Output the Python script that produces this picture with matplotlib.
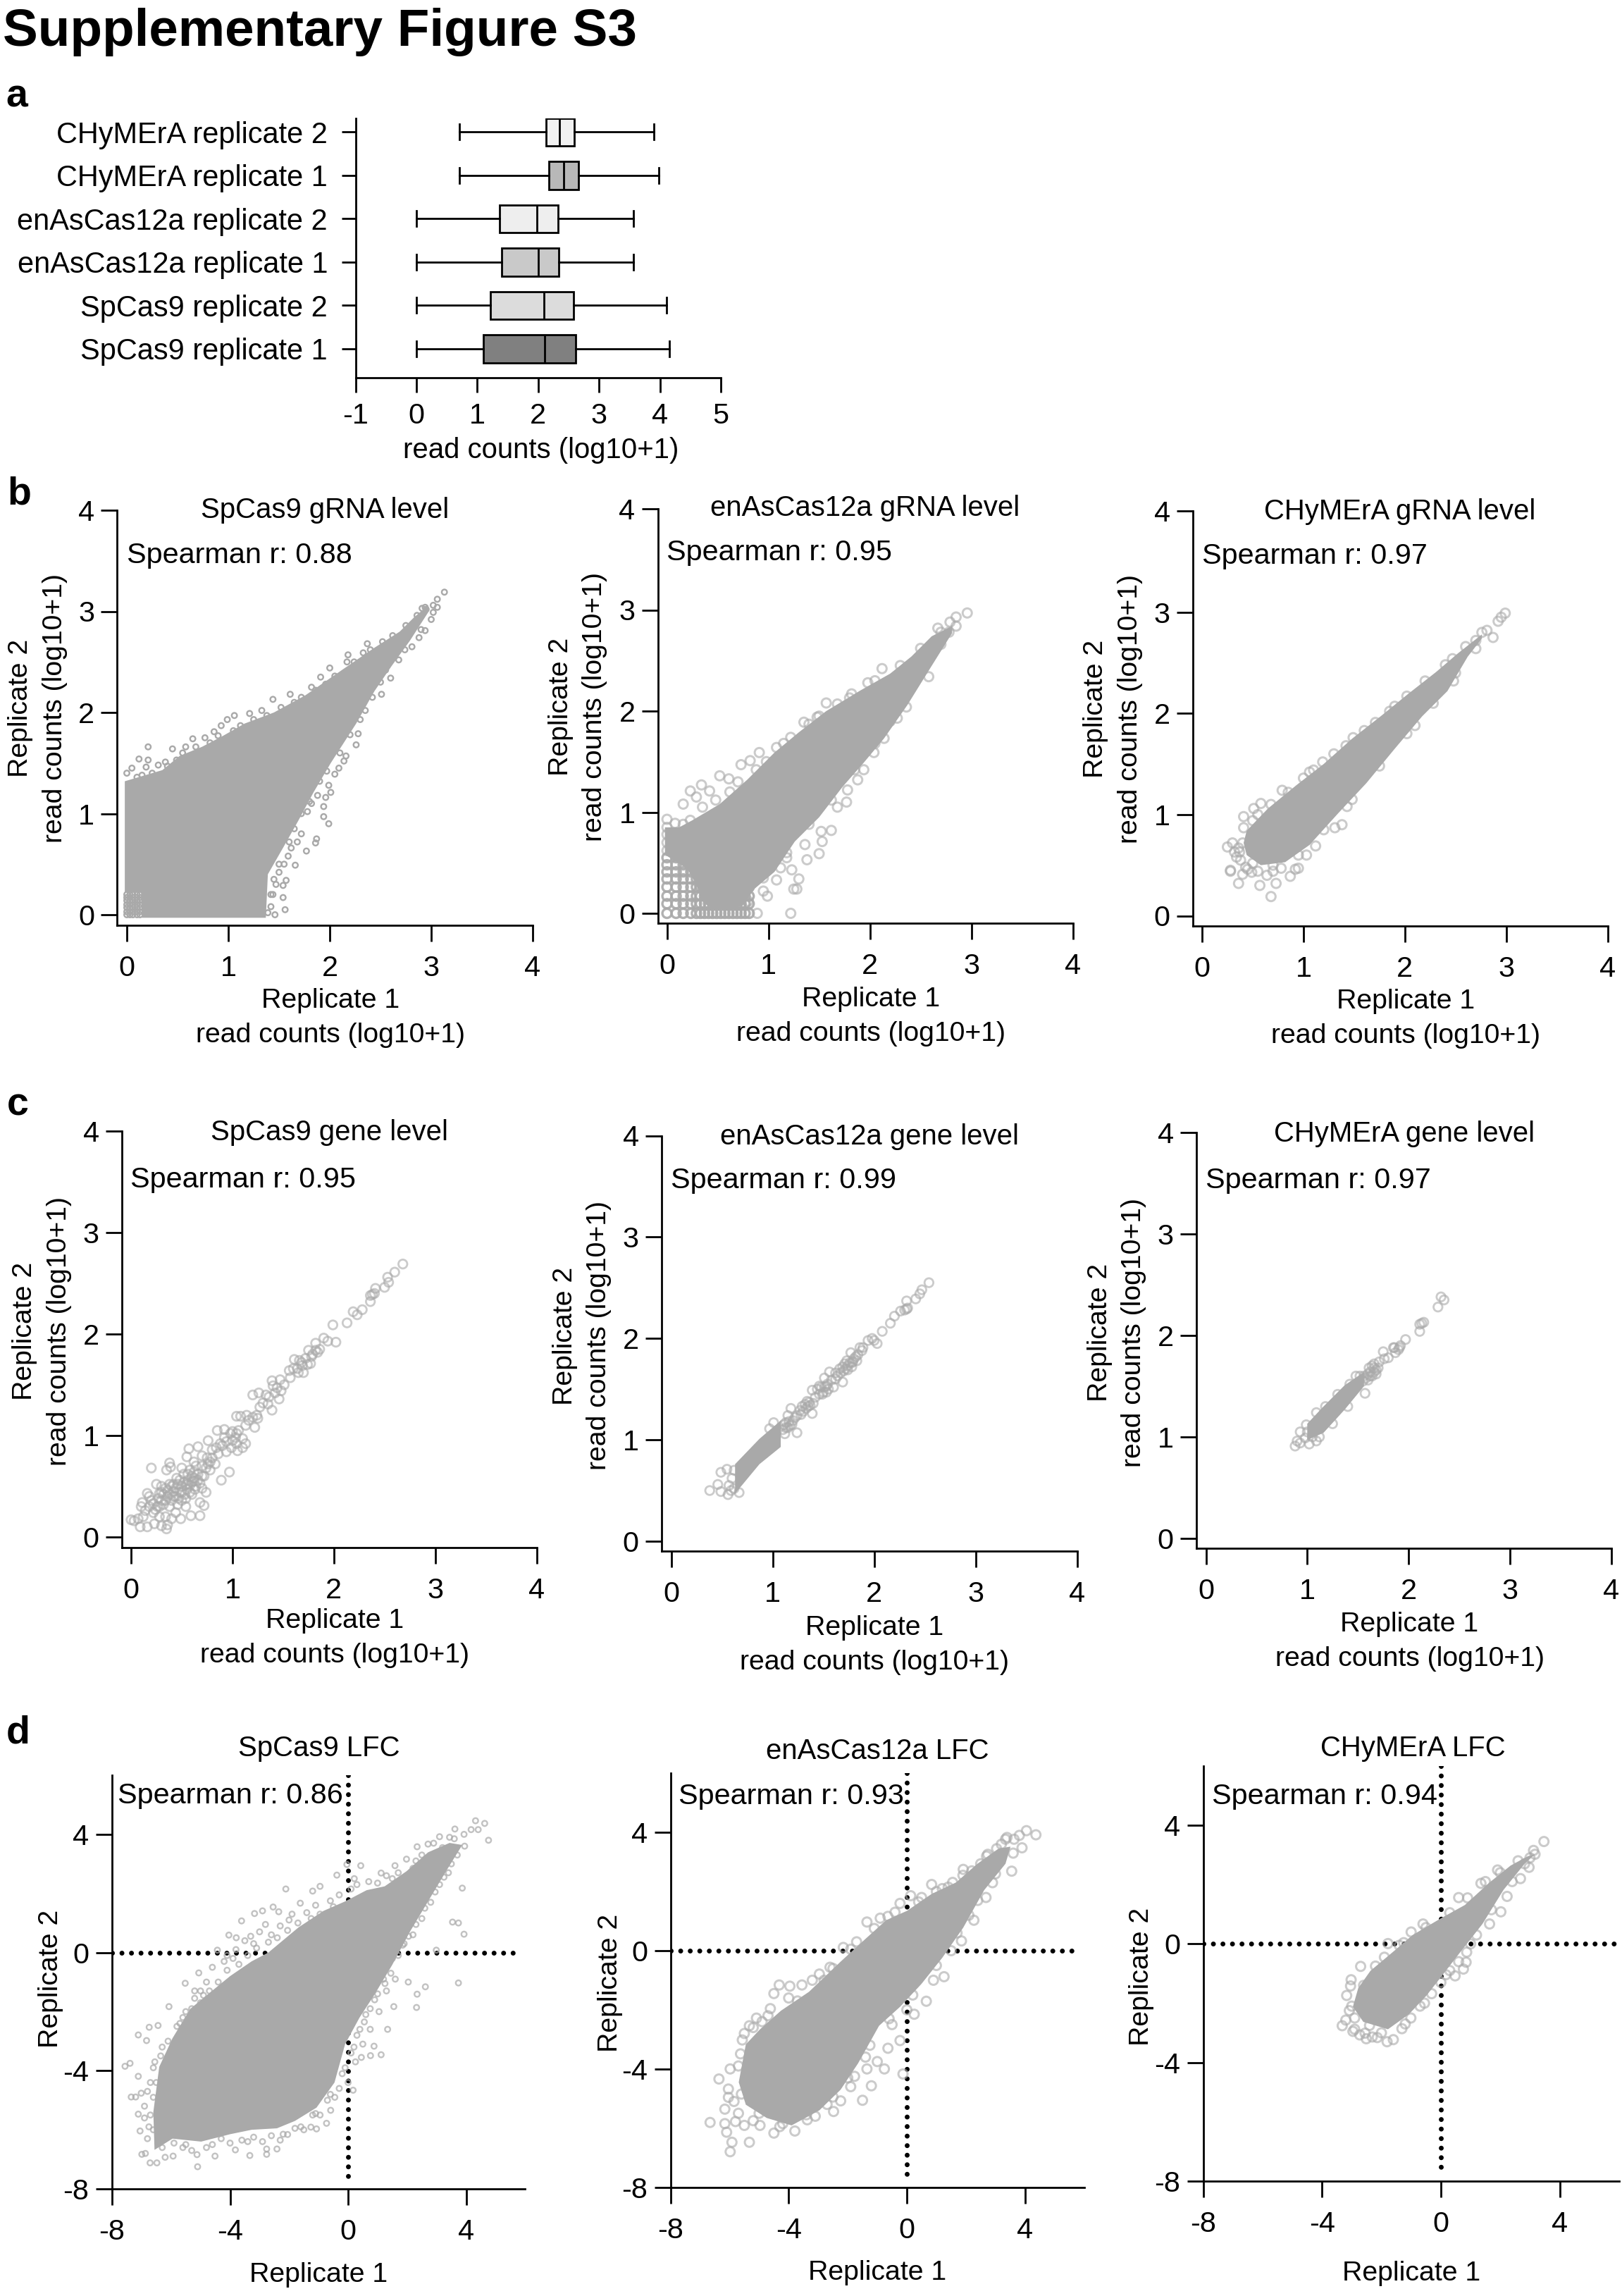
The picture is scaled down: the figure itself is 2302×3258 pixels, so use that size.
import numpy as np
import matplotlib
matplotlib.use("Agg")
import matplotlib.pyplot as plt

plt.rcParams['font.family'] = ['Liberation Sans', 'DejaVu Sans']
W, H = 2302, 3258
GREY = '#a9a9a9'

# ---------- panel a ----------
box_labels = ['SpCas9 replicate 1', 'SpCas9 replicate 2', 'enAsCas12a replicate 1',
              'enAsCas12a replicate 2', 'CHyMErA replicate 1', 'CHyMErA replicate 2']
box_whislo = [0, 0, 0, 0, 0.706, 0.706]
box_q1 = [1.10, 1.21, 1.40, 1.36, 2.18, 2.127]
box_med = [2.11, 2.10, 2.00, 1.98, 2.42, 2.354]
box_q3 = [2.62, 2.58, 2.34, 2.33, 2.66, 2.59]
box_whishi = [4.16, 4.11, 3.56, 3.56, 3.98, 3.90]
box_colors = ['#808080', '#dcdcdc', '#c9c9c9', '#eeeeee', '#b8b8b8', '#f1f1f1']

# ---------- panel b: dense clouds (outline) and stray points ----------
b1_up = [(-0.02,1.32),(0.35,1.43),(0.52,1.57),(0.74,1.66),(0.95,1.77),(1.16,1.89),(1.45,2.0),(1.76,2.17),
         (2.12,2.42),(2.44,2.64),(2.69,2.80),(2.83,2.94),(2.97,3.06)]
b1_lo = [(-0.02,0.22),(0.14,0.22),(0.15,-0.03),(1.37,-0.03),(1.39,0.40),(1.55,0.68),(1.69,0.93),(1.84,1.21),
         (2.01,1.50),(2.26,1.89),(2.44,2.21),(2.61,2.46),(2.79,2.71),(2.97,2.99)]
b1_pts = [(3.13,3.19),(3.06,3.12),(3.02,3.06),(2.91,3.03),(2.94,3.04),(3.06,3.04),(3.02,2.99),(2.37,2.68),(2.33,2.59),
          (2.18,2.57),(2.17,2.50),(2.0,2.44),(1.91,2.35),(1.82,2.25),(1.61,2.18),(1.44,2.13),(1.33,2.02),(1.21,1.99),
          (1.06,1.97),(0.99,1.93),(0.93,1.87),(0.86,1.81),(0.77,1.75),(0.65,1.74),(0.58,1.66),(0.45,1.64),(0.21,1.66),
          (0.12,1.54),(0.21,1.53),(0.19,1.46),(0,1.40),(0.05,1.45),(0.31,1.48),(0.38,1.51),(0.49,1.53),(2.51,2.18),
          (2.6,2.34),(2.28,1.79),(2.26,1.68),(2.16,1.57),(2.14,1.52),(2.09,1.45),(2.05,1.39),(2.01,1.21),(1.99,1.28),
          (1.96,1.16),(1.94,1.07),(1.94,0.97),(1.99,0.90),(1.87,0.75),(1.86,0.71),(1.77,0.63),(1.66,0.49),(1.59,0.58),
          (1.55,0.50),(1.57,0.34),(1.54,0.29),(1.54,0.17),(1.56,0.05),(1.46,0),(1.39,0.02),(2.94,2.81),(2.88,2.74),
          (2.81,2.65),(1.72,0.80),(1.68,0.72),(1.62,0.66),(1.50,0.42),(1.47,0.30),(1.44,0.20),(1.42,0.08),(1.78,1.02),
          (1.82,1.10),(1.88,1.18),(0.1,1.36),(0.15,1.38),(0.25,1.40),(0.4,1.47),(0.55,1.6),(0.68,1.66),(0.82,1.70),
          (0.9,1.77),(1.05,1.82),(1.12,1.87),(1.25,1.93),(1.38,1.97),(1.52,2.05),(1.65,2.1),(1.72,2.15),(1.86,2.22),
          (1.96,2.28),(2.05,2.36),(2.24,2.50),(2.4,2.62),(2.52,2.70),(2.62,2.76),(2.75,2.86),(2.86,2.96),(2.95,3.02),
          (1.42,0.2),(1.45,0.35),(1.5,0.5),(1.6,0.72),(1.65,0.85),(1.72,1.0),(1.8,1.12),(1.9,1.32),(1.97,1.42),(2.1,1.6),
          (2.2,1.78),(2.35,2.02),(2.5,2.3),(2.68,2.52),(2.74,2.62),(2.9,2.82),(3.0,2.92),(2.55,2.42),(2.42,2.15),(2.3,1.93)]
b1_lat_x = [0, 0.03, 0.06, 0.10, 0.13]
b1_lat_y = [0, 0.03, 0.07, 0.10, 0.14, 0.17, 0.20]

b2_up = [(-0.02,0.85),(0.12,0.85),(0.25,0.92),(0.52,1.08),(0.79,1.32),(1.06,1.59),(1.30,1.79),(1.57,2.0),(1.9,2.2),
         (2.2,2.37),(2.41,2.54),(2.61,2.74),(2.81,2.84)]
b2_lo = [(-0.02,0.58),(0.2,0.44),(0.28,0.30),(0.36,0.10),(0.45,0.05),(0.6,0.03),(0.75,0.08),(0.86,0.24),(1.06,0.41),
         (1.26,0.71),(1.5,0.95),(1.73,1.25),(1.94,1.49),(2.14,1.73),(2.37,2.06),(2.58,2.40),(2.81,2.77)]
b2_pts = [(2.96,2.97),(2.85,2.93),(2.79,2.88),(2.85,2.84),(2.67,2.82),(2.58,2.34),(2.36,2.04),(2.27,1.93),(2.14,1.73),
          (2.04,1.59),(1.94,1.42),(1.88,1.32),(1.78,1.22),(1.77,1.10),(1.68,1.05),(1.62,0.82),(1.52,0.81),(1.53,0.71),
          (1.5,0.59),(1.36,0.68),(1.38,0.53),(1.30,0.34),(1.23,0.43),(1.28,0.24),(1.25,0.24),(1.22,0),(0.99,0.17),
          (0.89,0),(1.57,2.08),(1.48,1.94),(1.35,1.89),(1.08,1.64),(0.91,1.59),(0.73,1.47),(0.82,1.51),(0.61,1.33),
          (0.52,1.36),(0.34,1.27),(0.23,1.21),(0.42,1.21),(0.29,1.15),(0.16,1.08),(0,0.93),(0.08,0.89),(0,0.85),
          (1.98,2.28),(2.12,2.42),(1.82,2.17),(0,0.62),(0,0.70),(0,0.78),(0.09,0.62),(0.09,0.70),(0.09,0.78),
          (0.16,0.62),(0.16,0.70),(0.16,0.78),(0.16,0.88),(0.23,0.92),(0.95,0.22),(1.08,0.33),(1.12,0.45),(1.18,0.55),
          (0.35,1.05),(0.48,1.12),(0.62,1.2),(0.7,1.3),(0.88,1.42),(0.98,1.5),(1.15,1.68),(1.22,1.74),(1.4,1.87),(1.5,1.95),
          (1.68,2.07),(1.8,2.13),(2.05,2.3),(2.3,2.45),(2.5,2.62),(2.7,2.78),(2.78,2.78),(2.7,2.66),(2.48,2.45),(2.3,2.15),
          (2.2,1.9),(2.05,1.68),(1.85,1.42),(1.62,1.12),(1.4,0.88),(1.18,0.6),(0.95,0.35),(0.8,0.12)]
b2_lat_x = [0, 0.09, 0.16, 0.235, 0.29, 0.33, 0.37, 0.41, 0.45, 0.49, 0.53, 0.57, 0.61, 0.65, 0.69, 0.73, 0.77, 0.81]
b2_lat_y = [0, 0.095, 0.17, 0.26, 0.34, 0.41, 0.48, 0.55]

b3_up = [(0.41,0.72),(0.44,0.84),(0.65,1.06),(0.93,1.29),(1.2,1.5),(1.48,1.75),(1.76,1.97),(2.03,2.19),(2.31,2.41),
         (2.52,2.59),(2.76,2.78)]
b3_lo = [(0.41,0.72),(0.44,0.6),(0.58,0.5),(0.82,0.53),(1.06,0.70),(1.34,1.01),(1.62,1.31),(1.90,1.65),(2.17,1.97),
         (2.42,2.22),(2.62,2.56),(2.76,2.74)]
b3_pts = [(2.99,2.99),(2.95,2.95),(2.92,2.91),(2.87,2.75),(2.81,2.82),(2.76,2.80),(2.48,2.32),(2.47,2.54),(2.02,2.17),
          (1.90,2.07),(2.1,1.88),(1.71,1.91),(1.49,1.76),(1.38,0.90),(1.31,0.87),(1.43,1.08),(1.12,0.69),(1.19,1.52),
          (1.06,1.42),(0.79,1.24),(0.58,1.11),(0.51,1.06),(0.41,0.98),(0.41,0.87),(0.5,0.94),(0.30,0.72),(0.25,0.68),
          (0.32,0.63),(0.40,0.72),(0.38,0.55),(0.28,0.44),(0.36,0.32),(0.40,0.41),(0.49,0.43),(0.57,0.30),(0.73,0.32),
          (0.68,0.19),(0.64,0.40),(0.87,0.39),(0.92,0.46),(0.95,0.47),(1.03,0.60),(0.37,0.63),(0.43,0.48),(0.28,0.45),
          (0.45,0.46),(0.55,0.44),(0.70,0.44),(0.78,0.47),(0.34,0.58),(0.36,0.67),(0.55,1.0),(0.68,1.1),(0.85,1.22),
          (1.0,1.36),(1.1,1.44),(1.3,1.6),(1.42,1.68),(1.6,1.83),(1.85,2.02),(2.2,2.32),(2.4,2.48),(2.6,2.66),(2.7,2.72),
          (2.7,2.64),(2.5,2.4),(2.28,2.1),(2.02,1.8),(1.75,1.48),(1.48,1.15),(1.2,0.85),(0.95,0.6),(0.7,0.5),(0.5,0.52)]

# ---------- panel c: gene-level points ----------
c1_pts = [(2.68,2.69),(2.60,2.61),(2.53,2.56),(2.54,2.51),(2.50,2.46),(2.41,2.45),(2.40,2.40),(2.36,2.38),(2.36,2.32),
          (2.38,2.39),(2.28,2.24),(2.19,2.22),(2.23,2.19),(2.13,2.11),(1.99,2.09),(2.02,1.92),(1.90,1.96),(1.94,1.93),
          (1.82,1.91),(1.86,1.85),(1.75,1.84),(1.77,1.71),(1.82,1.84),(1.79,1.80),(1.72,1.76),(1.69,1.69),(1.66,1.74),
          (1.61,1.75),(1.65,1.62),(1.60,1.66),(1.56,1.64),(1.70,1.62),(1.57,1.57),(1.51,1.50),(1.47,1.55),(1.39,1.54),
          (1.44,1.47),(1.40,1.49),(1.46,1.36),(1.35,1.31),(1.39,1.25),(1.33,1.40),(1.26,1.42),(1.20,1.40),(1.27,1.28),
          (1.20,1.18),(1.25,1.17),(1.16,1.15),(1.14,1.20),(1.08,1.19),(1.04,1.19),(1.22,1.08),(1.13,1.10),(1.06,1.05),
          (1.03,0.98),(1.10,0.97),(1.13,0.92),(1.00,0.95),(0.98,1.02),(0.92,1.06),(0.85,1.05),(0.90,0.90),(0.94,0.84),
          (1.05,0.85),(1.10,0.88),(0.97,0.64),(0.89,0.56),(0.80,0.86),(0.83,0.72),(0.76,0.95),(0.75,0.78),(0.70,0.70),
          (0.78,0.66),(0.72,0.60),(0.66,0.89),(0.57,0.87),(0.55,0.79),(0.62,0.74),(0.66,0.62),(0.68,0.53),(0.62,0.58),
          (0.56,0.56),(0.58,0.66),(0.52,0.62),(0.50,0.68),(0.45,0.58),(0.50,0.50),(0.55,0.47),(0.60,0.42),(0.68,0.34),
          (0.72,0.31),(0.68,0.21),(0.59,0.21),(0.49,0.18),(0.54,0.30),(0.47,0.38),(0.42,0.45),(0.38,0.52),(0.38,0.73),
          (0.35,0.66),(0.39,0.69),(0.20,0.68),(0.32,0.42),(0.30,0.50),(0.25,0.52),(0.27,0.38),(0.16,0.43),(0.18,0.40),
          (0.11,0.34),(0.10,0.30),(0.18,0.30),(0.24,0.27),(0.32,0.32),(0.38,0.30),(0.44,0.24),(0.40,0.18),(0.34,0.20),
          (0.28,0.20),(0.23,0.13),(0.30,0.11),(0.35,0.08),(0.36,0.12),(0.00,0.17),(0.09,0.10),(0.16,0.10),(0.07,0.18),
          (0.12,0.20),(0.03,0.16),(0.48,0.44),(0.53,0.42),(0.46,0.32),(0.58,0.51),(0.63,0.47),(0.70,0.48),(0.74,0.44),
          (0.30,0.36),(0.22,0.33),(0.36,0.40),(0.40,0.36),(0.44,0.48),(0.52,0.54),(0.60,0.60),(0.64,0.70),(0.70,0.80),
          (0.78,0.74),(0.86,0.82),(0.92,0.98),(0.99,0.88),(1.04,0.92),(0.62,0.55),(0.56,0.62),(0.46,0.52),
          (0.28,0.43),(0.34,0.48),(0.40,0.50),(0.42,0.40),(0.50,0.44),(0.56,0.52),(0.60,0.54),(0.64,0.50),(0.66,0.56),
          (0.70,0.60),(0.74,0.68),(0.76,0.72),(0.80,0.78),(0.84,0.88),(0.88,0.92),(0.94,0.94),(1.00,1.04),(1.04,1.02),
          (0.34,0.36),(0.38,0.42),(0.44,0.40),(0.26,0.30),(0.22,0.24),(0.28,0.30),(0.20,0.36),(0.14,0.26),(0.50,0.36),
          (0.54,0.38),(0.58,0.44),(0.62,0.64),(0.54,0.52),(0.48,0.56),(0.42,0.52),(0.36,0.46),(0.30,0.44),(1.24,1.20),
          (1.30,1.32),(1.36,1.38),(1.42,1.42),(1.48,1.44),(1.64,1.66),(1.68,1.72),(1.74,1.70),(1.78,1.78),(1.84,1.82)]
c2_up = [(0.63,0.76),(0.87,1.01),(1.08,1.19)]
c2_lo = [(0.63,0.47),(0.87,0.76),(1.08,0.93)]
c2_pts = [(2.54,2.55),(2.47,2.48),(2.45,2.44),(2.41,2.39),(2.32,2.37),(2.32,2.29),(2.33,2.30),(2.30,2.28),(2.26,2.27),
          (2.20,2.22),(2.16,2.15),(2.08,2.07),(2.03,1.95),(1.98,2.0),(1.94,1.98),(2.0,1.98),(1.89,1.91),(1.86,1.91),
          (1.82,1.82),(1.77,1.86),(1.79,1.77),(1.74,1.73),(1.69,1.72),(1.67,1.66),(1.69,1.57),(1.56,1.67),(1.51,1.61),
          (1.6,1.52),(1.51,1.52),(1.46,1.45),(1.39,1.49),(1.39,1.26),(1.34,1.38),(1.29,1.33),(1.18,1.31),(1.24,1.24),
          (1.24,1.07),(1.15,1.24),(1.01,1.17),(0.97,1.11),(0.49,0.68),(0.38,0.50),(0.55,0.71),(0.46,0.56),(0.56,0.46),
          (0.49,0.49),(0.67,0.48),(1.88,1.88),(1.84,1.84),(1.80,1.80),(1.76,1.76),(1.72,1.70),(1.71,1.75),(1.66,1.70),
          (1.64,1.63),(1.62,1.60),(1.58,1.59),(1.54,1.55),(1.53,1.47),(1.50,1.47),(1.48,1.52),(1.44,1.50),(1.42,1.42),
          (1.37,1.34),(1.33,1.31),(1.36,1.37),(1.30,1.28),(1.27,1.29),(1.22,1.22),(1.20,1.19),(1.17,1.14),(1.13,1.17),
          (1.10,1.10),(1.12,1.06),(1.15,1.12),(1.78,1.72),(1.73,1.78),(0.60,0.62),(0.57,0.55),(0.62,0.70),
          (1.70,1.68),(1.74,1.69),(1.78,1.76),(1.83,1.78),(1.62,1.66),(1.55,1.50),(1.53,1.53),(1.49,1.45),(1.46,1.53),
          (1.40,1.36),(1.35,1.33),(1.32,1.35),(1.28,1.25),(1.19,1.15),(1.13,1.12),(1.16,1.18),(1.11,1.15),(0.59,0.50),(0.62,0.52)]
c3_up = [(1.0,1.13),(1.16,1.30),(1.37,1.51),(1.56,1.64)]
c3_lo = [(1.0,0.97),(1.16,1.04),(1.37,1.27),(1.56,1.50)]
c3_pts = [(2.35,2.35),(2.32,2.38),(2.29,2.28),(2.15,2.13),(2.11,2.11),(2.13,2.12),(2.11,2.04),(1.97,1.96),(1.92,1.90),
          (1.90,1.86),(1.85,1.88),(1.87,1.83),(1.75,1.84),(1.8,1.78),(1.76,1.77),(1.71,1.74),(1.64,1.70),(1.61,1.68),
          (1.68,1.62),(1.64,1.60),(1.57,1.43),(1.52,1.60),(0.88,0.91),(0.90,0.96),(0.93,0.94),(1.02,0.93),(1.09,0.96),
          (0.93,1.05),(0.99,1.12),(1.09,1.24),(1.86,1.88),(1.91,1.88),(1.66,1.68),(1.62,1.60),(1.60,1.56),(1.58,1.58),
          (1.66,1.64),(1.70,1.68),(1.56,1.60),(1.55,1.55),(0.98,0.99),(1.00,1.05),(1.05,1.00),(1.62,1.64),(1.66,1.72),
          (1.60,1.62),(1.68,1.66),(1.12,1.00),(1.18,1.30),(1.30,1.42),(1.42,1.52),(1.48,1.60),(1.25,1.13),(1.40,1.30)]

# ---------- panel d: log fold changes ----------
d1_up = [(-6.56,-6.68),(-6.6,-5.4),(-6.4,-3.87),(-5.95,-2.9),(-5.34,-1.9),(-4.49,-1.2),(-4,-0.8),(-3.27,-0.3),
         (-2.7,0.0),(-1.68,0.85),(-0.83,1.41),(-0.1,1.73),(0.63,2.11),(1.24,2.24),(1.98,2.75),(2.71,3.39),(3.44,3.71),(3.87,3.64)]
d1_lo = [(-6.56,-6.68),(-5.95,-6.3),(-4.98,-6.4),(-4,-6.15),(-3.27,-6.0),(-2.41,-5.95),(-1.8,-5.7),(-1.07,-5.25),
         (-0.46,-4.4),(-0.1,-3.1),(0.39,-2.2),(0.88,-1.45),(1.49,-0.43),(2.1,0.71),(2.71,1.73),(3.32,2.75),(3.87,3.64)]
d1_pts = [(4.76,3.8),(4.63,4.37),(4.32,4.46),(4.41,4.16),(4.17,4.16),(3.93,4.0),(3.62,4.18),(3.1,3.92),(2.71,3.67),
          (2.34,3.58),(1.98,3.16),(3.87,2.18),(3.54,1.03),(3.74,1.0),(3.93,0.62),(3.74,-1.03),(2.99,0.08),(2.62,-1.16),
          (2.32,-1.86),(2.34,-1.41),(2.04,-1.0),(1.55,-1.83),(1.34,-2.6),(1.12,-3.46),(0.88,-3.17),(0.76,-3.49),(0.45,-3.55),
          (0.17,-4.66),(-0.59,-5.34),(-0.73,-5.78),(-1.07,-5.97),(-1.26,-5.91),(-2.05,-6.16),(-2.41,-6.65),(-2.76,-6.83),
          (-2.76,-6.65),(-3.33,-6.87),(-3.82,-6.68),(-4.51,-6.89),(-5.1,-7.25),(-5.12,-6.84),(-5.93,-6.89),(-6.2,-6.93),
          (-6.48,-7.12),(-6.71,-7.12),(-6.87,-6.8),(-6.99,-6.83),(-7.05,-6.04),(-7.11,-5.47),(-7.35,-4.89),(-7.01,-4.76),
          (-7.2,-4.89),(-7.11,-4.19),(-7.56,-3.85),(-7.39,-3.75),(-7.11,-2.79),(-6.74,-2.53),(-6.83,-2.98),(-6.44,-2.47),
          (-6.07,-1.83),(-5.52,-1.04),(-5.06,-0.69),(-4.43,0.08),(-4.04,0.59),(-3.79,0.5),(-3.61,1.07),(-3.17,1.32),(-2.9,1.41),
          (-2.54,1.54),(-2.35,1.38),(-2.11,2.15),(-1.62,1.67),(-1.2,2.08),(-0.95,2.24),(-0.38,2.62),(-0.04,2.98),(0.43,2.94),
          (0.21,2.5),(1.12,2.69),(1.59,2.94),(3.44,3.9),(-6.6,-6.0),(-6.7,-5.5),(-6.6,-4.9),(-6.5,-4.4),(-6.3,-3.2),(-5.6,-2.2),
          (-5.0,-1.3),(-4.2,-0.3),(-3.5,0.4),(-3.0,0.7),(-2.0,1.1),(-1.4,1.35),(-0.6,1.75),(0.3,2.3),(1.0,2.35),(1.5,2.5),(2.3,3.1),
          (1.9,1.1),(1.7,0.3),(1.5,-0.2),(1.2,-0.9),(0.9,-1.6),(0.6,-2.1),(0.4,-2.6),(0.2,-3.2),(-0.1,-3.9),(-0.3,-4.6),(-0.7,-5.0),
          (-1.2,-5.5),(-1.8,-5.95),(-2.6,-6.2),(-3.2,-6.25),(-4.0,-6.45),(-4.8,-6.6),(-5.5,-6.5),(-6.2,-6.3),
          (-6.8,-6.3),(-6.75,-5.9),(-6.9,-5.2),(-6.8,-4.7),(-6.6,-3.9),(-6.35,-3.5),(-6.1,-3.0),(-5.8,-2.5),(-5.3,-1.9),(-5.2,-1.3),
          (-4.8,-1.0),(-4.6,-0.5),(-4.1,-0.1),(-3.8,0.1),(-3.3,0.55),(-2.8,0.95),(-2.3,0.9),(-1.9,1.3),(-1.1,1.6),(-0.3,1.95),
          (0.1,2.15),(0.7,2.4),(1.3,2.6),(1.7,2.7),(2.2,2.85),(2.5,3.3),(2.9,3.7),(3.2,3.55),(3.6,3.85),(3.95,3.6),(3.7,3.3),(3.4,2.7),
          (3.1,2.3),(2.8,1.7),(2.5,1.15),(2.2,0.6),(1.9,0.3),(1.6,-0.9),(1.3,-1.3),(1.05,-2.0),(0.75,-2.6),(0.5,-3.1),(0.25,-3.7),
          (0.0,-4.4),(-0.45,-4.9),(-0.95,-5.5),(-1.5,-6.0),(-2.2,-6.15),(-2.9,-6.4),(-3.6,-6.35),(-4.3,-6.3),(-5.3,-6.7),(-5.9,-6.45),
          (-5.7,-2.4),(-5.5,-2.0),(-5.0,-1.7),(-4.7,-1.3),(-4.4,-1.0),(-4.1,-0.6),(-3.7,-0.4),(-3.4,-0.1),(-3.1,0.15),(-2.7,0.35),(-2.4,0.5),
          (-2.05,0.75),(-1.7,1.0),(-1.25,1.15),(-0.95,1.3),(-0.5,1.55),(-3.9,-0.2),(-3.2,0.3),(-2.6,0.6),(-4.9,-1.45),(-5.2,-1.55),
          (1.7,-0.1),(1.45,-0.7),(1.25,-1.05),(1.0,-1.4),(0.75,-1.9),(0.55,-2.35),(0.3,-2.8),(0.1,-3.4),(-0.2,-4.1),(1.85,0.25),(2.05,0.55),
          (2.3,0.95),(2.6,1.5),(2.95,2.05),(3.25,2.55),(3.5,3.0),(-6.9,-5.6),(-6.7,-4.4),(-6.55,-3.7),(-6.3,-6.6),(-5.6,-6.6),(-4.6,-6.5),
          (-3.4,-6.4),(-2.3,-6.35),(-1.6,-5.9),(-1.1,-5.45),(-0.6,-4.8)]
d2_up = [(-5.69,-4.45),(-5.45,-3.17),(-4.97,-2.66),(-4.26,-2.03),(-3.31,-1.39),(-2.24,-0.37),(-1.41,0.39),(-0.7,1.03),
         (0.01,1.35),(0.84,1.92),(1.67,2.31),(2.39,2.94),(3.1,3.45),(3.51,3.52)]
d2_lo = [(-5.69,-4.45),(-5.45,-5.21),(-4.74,-5.66),(-3.9,-5.91),(-2.96,-5.4),(-2.24,-4.7),(-1.65,-3.81),(-0.94,-2.54),
         (-0.23,-1.9),(0.49,-1.13),(1.2,-0.24),(1.91,0.78),(2.62,2.05),(3.34,2.94),(3.51,3.52)]
d2_pts = [(4.37,3.92),(4.05,4.06),(3.81,3.9),(3.9,3.48),(3.63,3.77),(3.34,3.77),(3.55,2.69),(3.04,3.45),(2.5,2.94),(2.68,1.8),
          (2.27,1.03),(1.85,0.33),(1.26,-0.88),(0.66,-1.71),(0.25,-2.15),(-0.23,-3.04),(-0.13,-4.17),(-0.76,-4.0),(-0.64,-3.3),
          (-1.0,-3.75),(-1.35,-4.0),(-1.2,-4.57),(-1.5,-5.06),(-1.77,-4.25),(-2.24,-5.08),(-2.48,-5.44),(-3.37,-5.72),(-3.79,-6.1),
          (-4.5,-6.17),(-4.97,-5.91),(-5.33,-6.48),(-5.92,-6.48),(-5.98,-6.8),(-6.1,-6.14),(-6.16,-5.85),(-6.66,-5.81),(-5.8,-5.78),
          (-5.5,-5.91),(-6.16,-5.36),(-6.04,-4.96),(-6.04,-4.68),(-6.36,-4.34),(-5.98,-4.0),(-5.63,-3.49),(-5.57,-3.02),(-5.33,-2.54),
          (-5.09,-2.28),(-4.62,-1.96),(-4.5,-1.45),(-4.32,-1.16),(-3.96,-1.2),(-3.55,-1.16),(-2.96,-0.79),(-2.6,-0.56),(-2.15,0.11),
          (-1.35,0.97),(-0.64,1.16),(-0.23,1.6),(0.13,1.86),(0.84,2.24),(1.55,2.31),(1.91,2.75),(2.74,3.26),(3.39,3.83),(-5.7,-3.9),
          (-5.85,-5.1),(-5.7,-5.5),(-5.2,-5.75),(-4.3,-5.95),(-3.1,-5.6),(-2.7,-5.2),(-1.9,-4.6),(-1.4,-3.6),(-0.5,-2.5),(0.0,-2.0),
          (0.9,-1.0),(1.5,0.0),(2.1,1.2),(2.9,2.3),(-4.9,-2.4),(-4.0,-1.6),(-3.2,-1.0),(-1.9,0.05),(-0.9,1.1),(0.5,1.8),(1.2,2.1),(2.2,2.7),
          (-5.5,-2.8),(-5.2,-2.6),(-4.7,-2.2),(-3.7,-1.7),(-2.8,-1.0),(-2.5,-0.6),(-1.7,0.3),(-1.1,0.75),(-0.4,1.3),(0.4,1.65),(1.0,2.0),
          (1.4,2.15),(1.9,2.55),(2.7,3.2),(3.2,3.6),(3.6,3.3),(3.0,2.6),(2.4,1.7),(1.7,0.6),(1.0,-0.5),(0.2,-1.5),(-0.6,-2.3),(-1.25,-3.2),
          (-2.0,-4.3),(-2.5,-4.95),(-3.4,-5.55),(-4.2,-5.85),(-5.0,-5.5),(-5.6,-4.85)]
d3_up = [(-2.96,-2.12),(-2.78,-1.49),(-2.37,-0.91),(-1.55,-0.22),(-0.96,0.29),(0,0.86),(0.81,1.31),(1.64,2.07),(2.35,2.64),(2.94,2.96)]
d3_lo = [(-2.96,-2.12),(-2.61,-2.63),(-1.78,-2.88),(-1.07,-2.37),(-0.48,-1.74),(0.11,-0.98),(0.7,-0.22),(1.4,0.67),(2.11,1.82),
         (2.82,2.7),(3.17,3.02),(2.94,2.96)]
d3_pts = [(3.47,3.45),(3.12,3.15),(3.17,3.02),(2.97,2.58),(2.68,2.2),(1.91,2.49),(1.35,2.04),(0.6,1.56),(2.23,1.6),(2.02,1.08),
          (1.64,0.67),(0.87,-0.28),(0.85,-0.62),(0.76,-0.85),(0.48,-1.08),(0.17,-1.04),(-0.31,-1.68),(-1.01,-2.5),(-1.31,-2.86),
          (-1.6,-3.23),(-1.81,-3.3),(-2.14,-3.16),(-2.51,-3.2),(-2.55,-3.01),(-2.96,-2.95),(-3.32,-2.76),(-3.2,-2.57),(-3.08,-2.25),
          (-3.17,-1.74),(-3.04,-1.42),(-3.02,-1.21),(-2.7,-0.76),(-1.78,0.01),(-1.25,0.04),(-0.6,0.67),(-2.9,-2.88),(-2.73,-3.07),
          (-2.31,-3.14),(3.0,2.9),(2.82,2.7),(-2.0,-3.0),(-1.2,-2.7),(-0.7,-2.1),(0.3,-0.9),(1.0,0.0),(-2.9,-2.5),(-2.6,-1.4),(-1.0,0.4),
          (-2.2,-0.75),(-1.9,-0.45),(-1.4,-0.05),(-0.5,0.55),(0.3,1.05),(0.9,1.55),(1.5,2.1),(2.0,2.4),(2.6,2.8),(2.4,2.1),(1.7,1.15),
          (1.2,0.3),(0.6,-0.6),(0.0,-1.3),(-0.55,-2.0),(-2.4,-2.75),(-3.0,-2.1)]

r_values = [['0.88','0.95','0.97'], ['0.95','0.99','0.97'], ['0.86','0.93','0.94']]


def fx(px):
    return px / W


def fy(px):
    return 1 - px / H


fig = plt.figure(figsize=(W / 100, H / 100), dpi=100, facecolor='white')
FS = 29.8
LW = 2.0
LINEGAP = 49


def make_axes(left, right, top, bottom, xlim, ylim, xticks, yticks, xpad, ypad, tlx=16.5, tly=16.5):
    ax = fig.add_axes([fx(left), fy(bottom), fx(right) - fx(left), fy(top) - fy(bottom)])
    ax.set_xlim(*xlim)
    ax.set_ylim(*ylim)
    ax.patch.set_alpha(0)
    for s in ('top', 'right'):
        ax.spines[s].set_visible(False)
    for s in ('left', 'bottom'):
        ax.spines[s].set_linewidth(LW)
    ax.set_xticks(xticks)
    ax.set_xticklabels([str(v) for v in xticks])
    ax.set_yticks(yticks)
    ax.set_yticklabels([str(v) for v in yticks])
    ax.tick_params(axis='x', length=tlx, width=LW, labelsize=FS, pad=xpad)
    ax.tick_params(axis='y', length=tly, width=LW, labelsize=FS, pad=ypad)
    return ax


def rings(ax, pts, d, lw, alpha):
    a = np.array(pts, dtype=float)
    ax.scatter(a[:, 0], a[:, 1], s=(d * 0.72) ** 2, facecolors='none', edgecolors=GREY,
               linewidths=lw * 0.72, alpha=alpha, zorder=3, clip_on=False)


def cloud(ax, up, lo):
    a = np.array(up + lo[::-1], dtype=float)
    ax.fill(a[:, 0], a[:, 1], color=GREY, linewidth=0, zorder=2.5)


def titled(ax, title, tx, tbase, rtext, rx, rbase):
    ax.text(fx(tx), fy(tbase), title, transform=fig.transFigure, ha='center', va='baseline', fontsize=28.9)
    ax.text(fx(rx), fy(rbase), rtext, transform=fig.transFigure, ha='left', va='baseline', fontsize=FS)


def axis_labels(ax, xtxt, xcx, xbase, ytxt, ycx, ycy):
    ax.set_xlabel(xtxt, fontsize=28.3, va='baseline', ha='center', linespacing=1.45)
    ax.xaxis.set_label_coords(fx(xcx), fy(xbase), transform=fig.transFigure)
    ax.set_ylabel(ytxt, fontsize=28.3, va='center', ha='center', rotation=90, linespacing=1.45)
    ax.yaxis.set_label_coords(fx(ycx), fy(ycy), transform=fig.transFigure)


# ---- title and panel letters
fig.text(fx(3.5), fy(65), 'Supplementary Figure S3', fontsize=53.7, fontweight='bold', va='baseline', ha='left')
for letter, px, py in [('a', 8, 152), ('b', 10, 716), ('c', 10, 1583), ('d', 9, 2473)]:
    fig.text(fx(px), fy(py), letter, fontsize=40, fontweight='bold', va='baseline', ha='left')

# ---- panel a
axa = make_axes(504.6, 1023, 168.3, 536.4, (-1, 5), (-0.676, 5.31), [-1, 0, 1, 2, 3, 4, 5], list(range(6)),
                10, 14, tlx=15, tly=14.5)
stats = [dict(med=m, q1=a, q3=b, whislo=l, whishi=h, fliers=[], label=t)
         for m, a, b, l, h, t in zip(box_med, box_q1, box_q3, box_whislo, box_whishi, box_labels)]
art = axa.bxp(stats, positions=list(range(6)), widths=0.64, orientation='horizontal', patch_artist=True,
              showfliers=False, capwidths=0.36,
              boxprops=dict(linewidth=LW, edgecolor='black'), medianprops=dict(linewidth=LW, color='black'),
              whiskerprops=dict(linewidth=LW, color='black'), capprops=dict(linewidth=LW, color='black'))
for patch, col in zip(art['boxes'], box_colors):
    patch.set_facecolor(col)
axa.set_xlim(-1, 5)
axa.set_ylim(-0.676, 5.31)
axa.set_yticks(list(range(6)))
axa.set_yticklabels(box_labels)
axa.tick_params(axis='y', labelsize=29.9, pad=14)
axa.set_xlabel('read counts (log10+1)', fontsize=28.9, va='baseline', ha='center')
axa.xaxis.set_label_coords(fx(767.7), fy(649.6), transform=fig.transFigure)

# ---- panels b, c
count_panels = [
    # spine x, x0, x4, bottom, y0, y4, title, r, title dy, r dy, xlabel dy, ylabel dy, up, lo, points, ring d, lw, alpha
    (166.0, 180.0, 756.0, 1313.0, 1298.0, 724.0, 'SpCas9 gRNA level', r_values[0][0], 11, 75, 117, 281, b1_up, b1_lo, b1_pts, 7.5, 2.4, 1.0),
    (933.5, 946.6, 1522.5, 1310.0, 1296.0, 722.0, 'enAsCas12a gRNA level', r_values[0][1], 10, 73, 118, 281, b2_up, b2_lo, b2_pts, 13, 3.0, 0.6),
    (1692.6, 1706.0, 2281.6, 1314.0, 1299.5, 725.0, 'CHyMErA gRNA level', r_values[0][2], 12, 75, 117, 281, b3_up, b3_lo, b3_pts, 13, 3.0, 0.6),
    (172.6, 186.0, 761.7, 2195.7, 2181.0, 1605.0, 'SpCas9 gene level', r_values[1][0], 12.5, 80, 114, 284, None, None, c1_pts, 12.5, 2.8, 0.6),
    (938.6, 952.5, 1528.7, 2200.8, 2187.0, 1611.5, 'enAsCas12a gene level', r_values[1][1], 12.5, 74.5, 119, 284, c2_up, c2_lo, c2_pts, 12.5, 2.8, 0.6),
    (1697.6, 1711.5, 2286.7, 2197.0, 2183.0, 1607.0, 'CHyMErA gene level', r_values[1][2], 12.5, 79, 118, 284, c3_up, c3_lo, c3_pts, 12.5, 2.8, 0.6),
]
for i, (sx, x0, x4, bot, y0, y4, title, r, tdy, rdy, xdy, ycdy, up, lo, pts, d, lw, alpha) in enumerate(count_panels):
    ux = (x4 - x0) / 4
    uy = (y0 - y4) / 4
    ax = make_axes(sx, x4, y4, bot, ((sx - x0) / ux, 4), ((y0 - bot) / uy, 4), [0, 1, 2, 3, 4], [0, 1, 2, 3, 4], 14, 6.5)
    if up is not None:
        cloud(ax, up, lo)
    rings(ax, pts, d, lw, alpha)
    if i == 0:
        rings(ax, [(a, b) for a in b1_lat_x for b in b1_lat_y], d, lw, alpha)
    if i == 1:
        rings(ax, [(a, b) for a in b2_lat_x for b in b2_lat_y], d, 3.4, 0.9)
    titled(ax, title, x0 + 281, y4 + tdy, 'Spearman r: ' + r, x0 - 0.5, y4 + rdy)
    axis_labels(ax, 'Replicate 1\nread counts (log10+1)', x0 + 289, bot + xdy + LINEGAP,
                'Replicate 2\nread counts (log10+1)', x0 - 126.5, y4 + ycdy)

# ---- panel d
lfc_panels = [
    (159.0, 494.0, 3106.0, 2770.6, 'SpCas9 LFC', r_values[2][0], 452.3, 2492, 167, 2559, 452, 3238, 81.6, 2808, d1_up, d1_lo, d1_pts, 7.5, 2.4, 0.7),
    (951.6, 1287.0, 3103.6, 2768.0, 'enAsCas12a LFC', r_values[2][1], 1245, 2496, 962.6, 2560, 1245, 3235, 876, 2814, d2_up, d2_lo, d2_pts, 13, 3.0, 0.6),
    (1707.6, 2044.9, 3095.0, 2758.3, 'CHyMErA LFC', r_values[2][2], 2005, 2492, 1720, 2560, 2002.6, 3236, 1630.5, 2805, d3_up, d3_lo, d3_pts, 13, 3.0, 0.6),
]
for sx, x0, bot, y0, title, r, tx, tb, rx, rb, xcx, xb, ybase, ycy, up, lo, pts, d, lw, alpha in lfc_panels:
    ux = (x0 - sx) / 8
    uy = (bot - y0) / 8
    ax = make_axes(sx, x0 + 6 * ux, y0 - 6 * uy, bot, (-8, 6), (-8, 6), [-8, -4, 0, 4], [-8, -4, 0, 4], 14, 7)
    ax.plot([-8, 5.9], [0, 0], color='black', lw=5, linestyle=(0, (0.01, 1.94)), dash_capstyle='round', zorder=2)
    ax.plot([0, 0], [6, -7.8], color='black', lw=5, linestyle=(0, (0.01, 1.94)), dash_capstyle='round', zorder=2)
    cloud(ax, up, lo)
    rings(ax, pts, d, lw, alpha)
    titled(ax, title, tx, tb, 'Spearman r: ' + r, rx, rb)
    axis_labels(ax, 'Replicate 1', xcx, xb, 'Replicate 2', ybase - 10, ycy)

fig.savefig('out.png', dpi=100, facecolor='white')
